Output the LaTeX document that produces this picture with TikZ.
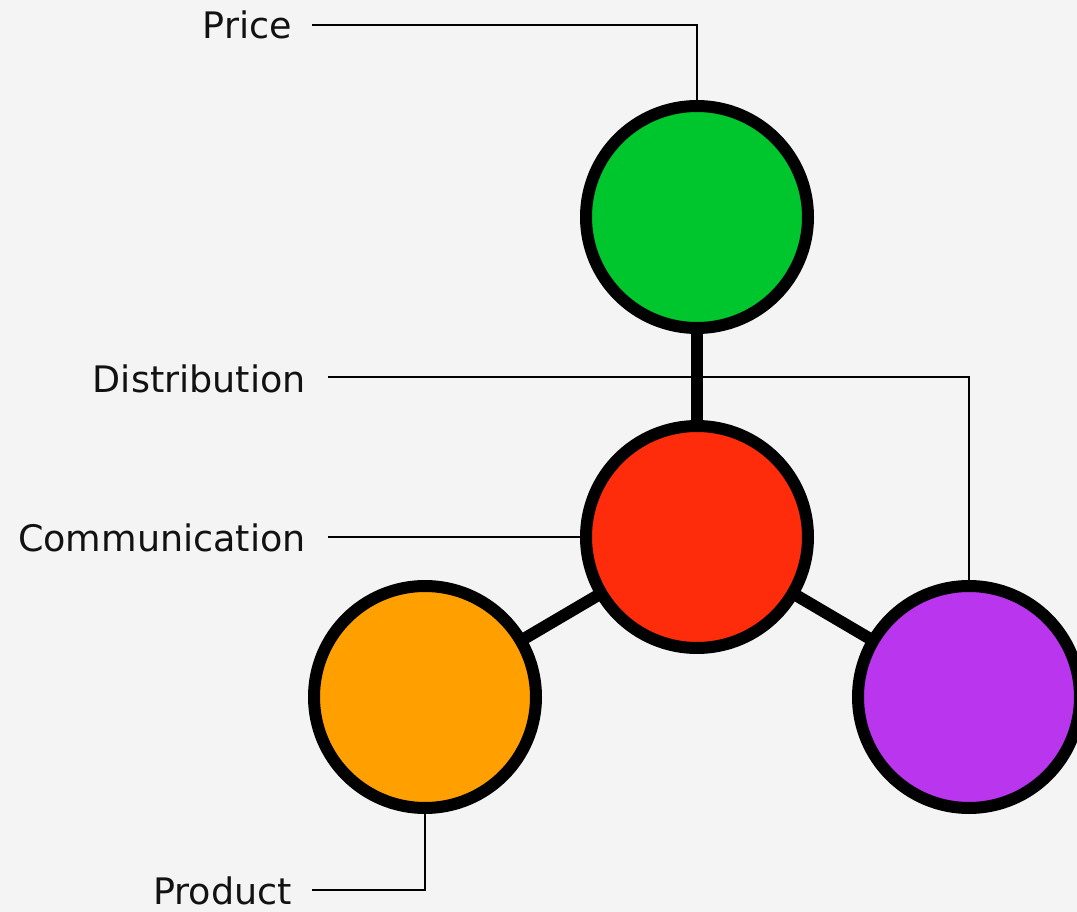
\documentclass[tikz,border=0pt]{standalone}
\usepackage{fontspec}
\setmainfont{DejaVu Sans}
\definecolor{bg}{HTML}{F3F4F3}
\definecolor{cgreen}{HTML}{00C62E}
\definecolor{cred}{HTML}{FF2C0C}
\definecolor{corange}{HTML}{FFA000}
\definecolor{cpurple}{HTML}{B936EE}
\begin{document}
\begin{tikzpicture}[x=1pt,y=-1pt,
  ball/.style={circle,draw=black,line width=12pt,minimum size=222pt,inner sep=0pt},
  thick link/.style={line width=12pt,draw=black},
  thin link/.style={line width=1.5pt,draw=black},
  lbl/.style={anchor=base east,inner sep=0pt,font=\fontsize{36.5}{40}\selectfont,text=black!93}]
\useasboundingbox[fill=bg] (0,0) rectangle (1077,912);
% labels
\node[lbl] (price) at (292,39) {Price};
\node[lbl] (dist) at (306,392) {Distribution};
\node[lbl] (comm) at (306,551) {Communication};
\node[lbl] (prod) at (292,904) {Product};
\coordinate (pS) at (312,25);
\coordinate (dS) at (328,377);
\coordinate (cS) at (328,537);
\coordinate (rS) at (312,890);
% circle positions
\coordinate (gc) at (697,217);
\coordinate (rc) at (697,537);
\coordinate (oc) at (425,697);
\coordinate (vc) at (969,697);
% thin leader lines
\draw[thin link] (pS) -| (697,105);
\draw[thin link] (dS) -| (969,585);
\draw[thin link] (cS) -- (585,537);
\draw[thin link] (rS) -| (425,810);
% thick connectors
\draw[thick link] (gc) -- (rc);
\draw[thick link] (rc) -- (oc);
\draw[thick link] (rc) -- (vc);
% circles
\node[ball,fill=cgreen] (green) at (gc) {};
\node[ball,fill=cred] (red) at (rc) {};
\node[ball,fill=corange] (orange) at (oc) {};
\node[ball,fill=cpurple] (purple) at (vc) {};
\end{tikzpicture}
\end{document}
